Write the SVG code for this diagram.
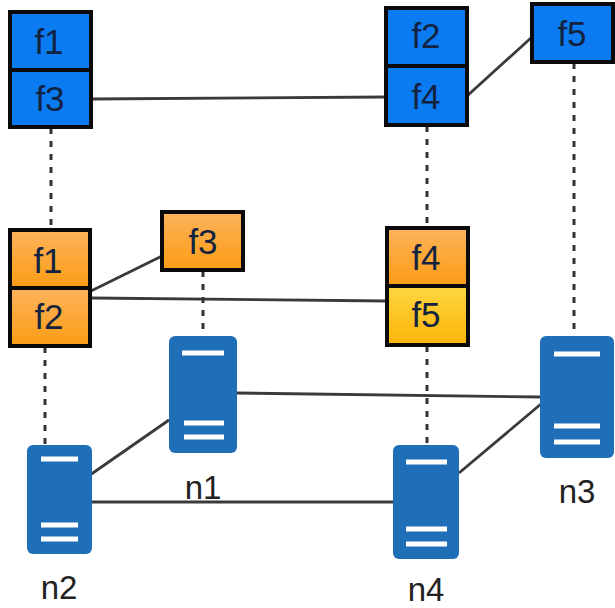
<svg xmlns="http://www.w3.org/2000/svg" width="615" height="608" viewBox="0 0 615 608">
<style>
.b{stroke:#0a0a0a;stroke-width:4}
.blue{fill:#0b7bf2}
.or{fill:url(#og)}
.ye{fill:url(#yg)}
.t{font-family:"Liberation Sans",Arial,sans-serif;font-size:35px;fill:#13233f;text-anchor:middle}
.n{font-family:"Liberation Sans",Arial,sans-serif;font-size:33px;fill:#222;text-anchor:middle}
.s{fill:#1f6fb8}
.w{stroke:#fff;stroke-width:5;fill:none}
.l{stroke:#3a3a3a;stroke-width:2.8;fill:none}
.d{stroke:#333;stroke-width:3;stroke-dasharray:6 7;fill:none}
</style>
<defs>
<linearGradient id="og" x1="0" y1="0" x2="0" y2="1"><stop offset="0" stop-color="#fdb35c"/><stop offset="1" stop-color="#fb9c14"/></linearGradient>
<linearGradient id="yg" x1="0" y1="0" x2="0" y2="1"><stop offset="0" stop-color="#fed640"/><stop offset="1" stop-color="#fdb40a"/></linearGradient>
</defs>
<g id="connectors">
<path class="l" d="M91 99L386 97"/>
<path class="l" d="M467 96L532 37"/>
<path class="l" d="M91 291L162 256"/>
<path class="l" d="M91 298L387 301"/>
<path class="l" d="M236 393L541 397"/>
<path class="l" d="M90 475L169 420"/>
<path class="l" d="M92 502L393 502"/>
<path class="l" d="M459 473L541 404"/>
<path class="d" d="M51 128V229"/>
<path class="d" d="M427 126V227"/>
<path class="d" d="M574 63V336"/>
<path class="d" d="M203 271V336"/>
<path class="d" d="M45 347V444"/>
<path class="d" d="M427 346V444"/>
</g>
<g id="f1-blue"><rect class="b blue" x="10" y="12" width="81" height="58"/><text class="t" x="49" y="54">f1</text></g>
<g id="f3-blue"><rect class="b blue" x="10" y="70" width="81" height="57"/><text class="t" x="50" y="111">f3</text></g>
<g id="f2-blue"><rect class="b blue" x="386" y="8" width="81" height="58"/><text class="t" x="426" y="48">f2</text></g>
<g id="f4-blue"><rect class="b blue" x="386" y="66" width="81" height="59"/><text class="t" x="426" y="109">f4</text></g>
<g id="f5-blue"><rect class="b blue" x="532" y="4" width="81" height="58"/><text class="t" x="572" y="46">f5</text></g>
<g id="f1-orange"><rect class="b or" x="10" y="230" width="80" height="58"/><text class="t" x="48" y="273">f1</text></g>
<g id="f2-orange"><rect class="b or" x="10" y="288" width="80" height="58"/><text class="t" x="49" y="329">f2</text></g>
<g id="f3-orange"><rect class="b or" x="162" y="212" width="81" height="58"/><text class="t" x="203" y="254">f3</text></g>
<g id="f4-orange"><rect class="b or" x="387" y="228" width="81" height="58"/><text class="t" x="426" y="270">f4</text></g>
<g id="f5-yellow"><rect class="b ye" x="387" y="286" width="81" height="59"/><text class="t" x="426" y="327">f5</text></g>
<g id="n1"><rect class="s" x="169" y="336" width="68" height="117" rx="6"/><path class="w" d="M182 353H224M184 423H224M184 437H224"/><text class="n" x="203" y="499">n1</text></g>
<g id="n2"><rect class="s" x="27" y="445" width="65" height="109" rx="6"/><path class="w" d="M41 459H78M41 525H78M41 539H78"/><text class="n" x="59" y="599">n2</text></g>
<g id="n3"><rect class="s" x="540" y="336" width="74" height="122" rx="6"/><path class="w" d="M554 354H600M554 426H600M554 442H600"/><text class="n" x="577" y="503">n3</text></g>
<g id="n4"><rect class="s" x="393" y="445" width="66" height="114" rx="6"/><path class="w" d="M406 462H447M406 529H447M406 544H447"/><text class="n" x="426" y="601">n4</text></g>
</svg>
